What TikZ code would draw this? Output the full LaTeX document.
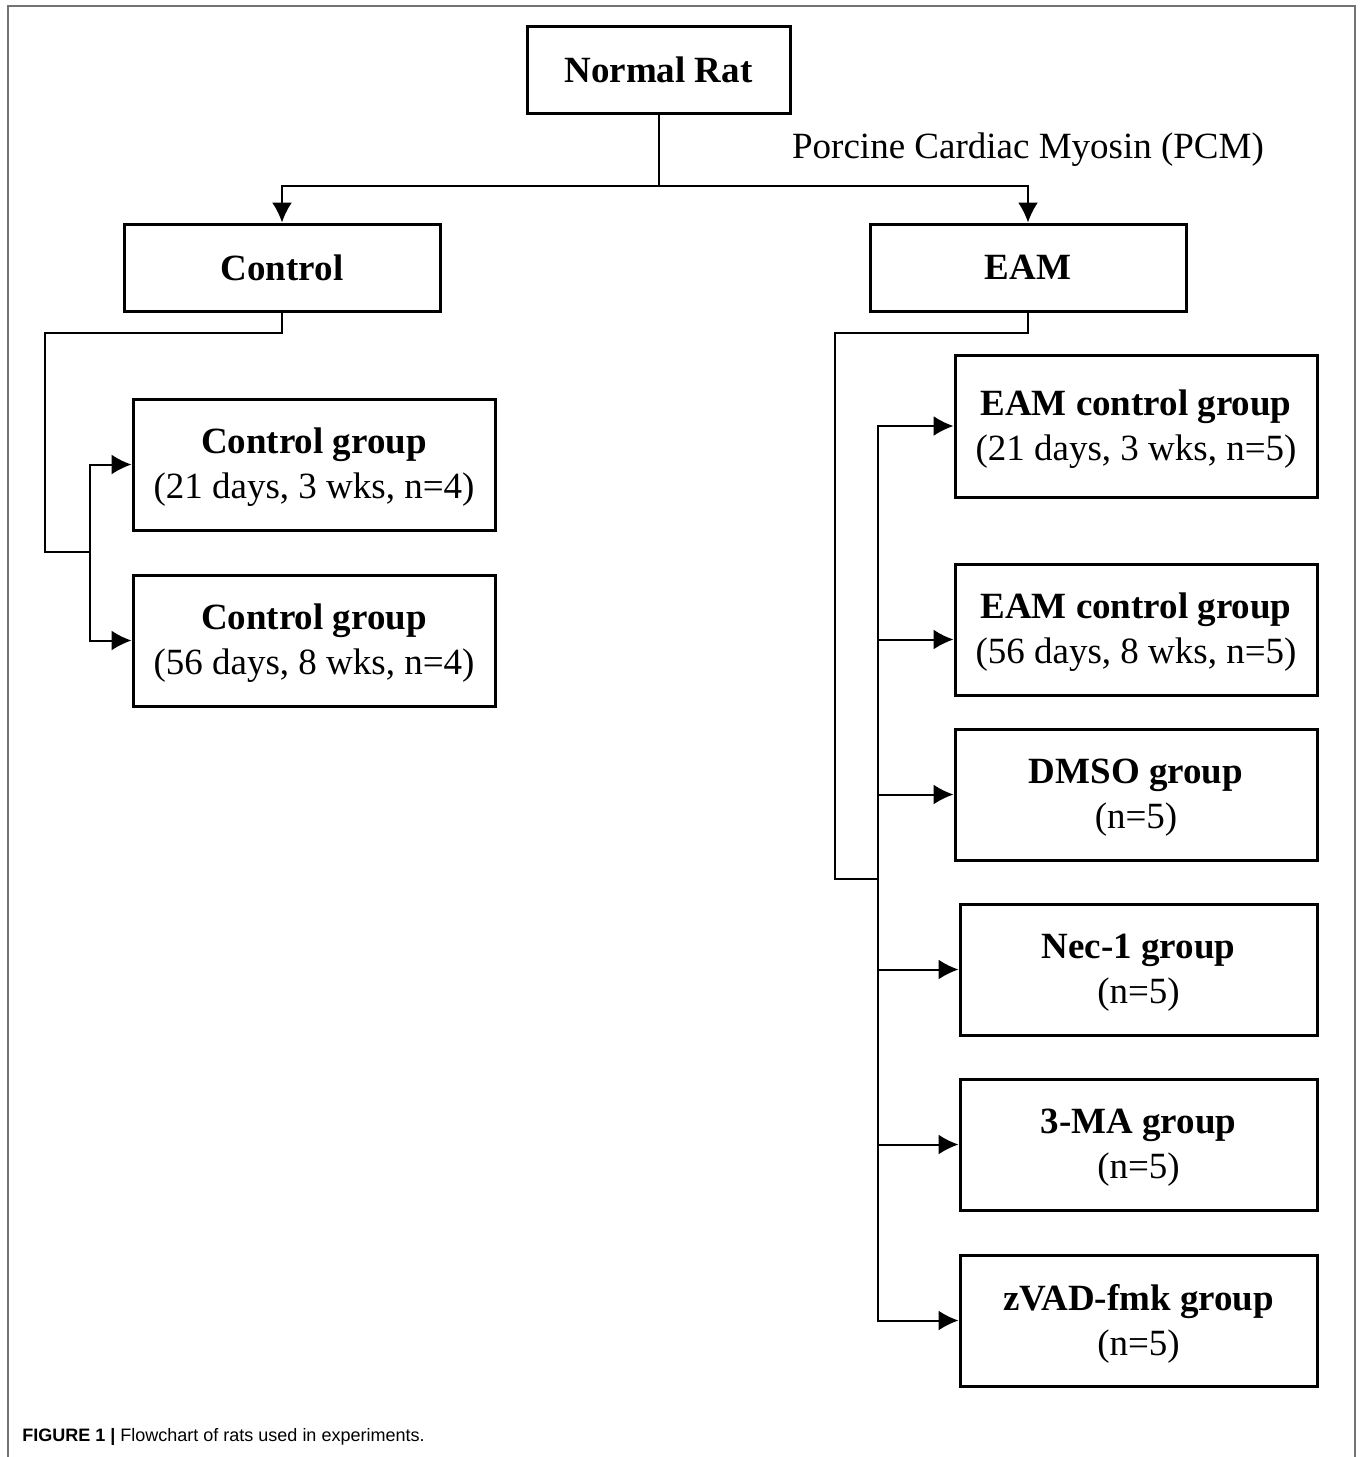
\documentclass[tikz,border=0pt]{standalone}
\usepackage{fontspec}
\setmainfont{Liberation Serif}
\newfontfamily\capfont{Liberation Sans}
\usepackage{xcolor}
\usepackage{tikz}
\usetikzlibrary{arrows.meta,positioning,calc}

\begin{document}
\begin{tikzpicture}[
    x=0.5pt, y=-0.5pt,
    box/.style={rectangle, draw=black, line width=1.5pt, align=center, inner sep=2pt,
        font=\fontsize{18.5}{22.5}\selectfont},
    head/.style={box, minimum width=158pt, minimum height=43.5pt, font=\fontsize{18.5}{22.5}\selectfont\bfseries},
    grp/.style={box, minimum width=181pt, minimum height=65.5pt, text depth=1pt},
    link/.style={line width=1pt, draw=black},
    arr/.style={link, -{Latex[length=10pt, width=10pt]}}
]
    \useasboundingbox (0,0) rectangle (1360,1457);

    % Frame
    \draw[line width=1pt, color=black!55] (8,1457) -- (8,6) -- (1355,6) -- (1355,1457);

    % Top
    \node[head, minimum width=131.5pt] (rat) at (658.5,69.5) {Normal Rat};
    \node[head] (ctrl) at (282,267.5) {Control};
    \node[head] (eam) at (1028,267.5) {EAM};
    \node[font=\fontsize{18.5}{22.5}\selectfont] (pcm) at (1028,150) {Porcine Cardiac Myosin (PCM)};

    % Control groups
    \node[grp] (cg1) at (314,464.5) {\textbf{Control group}\\(21 days, 3 wks, n=4)};
    \node[grp] (cg2) at (314,640.5) {\textbf{Control group}\\(56 days, 8 wks, n=4)};

    % EAM groups
    \node[grp, minimum height=71pt] (e1) at (1136,426) {\textbf{EAM control group}\\(21 days, 3 wks, n=5)};
    \node[grp] (e2) at (1136,629.5) {\textbf{EAM control group}\\(56 days, 8 wks, n=5)};
    \node[grp] (e3) at (1136,794.5) {\textbf{DMSO group}\\(n=5)};
    \node[grp, minimum width=178.5pt] (e4) at (1138.5,969.5) {\textbf{Nec-1 group}\\(n=5)};
    \node[grp, minimum width=178.5pt] (e5) at (1138.5,1144.5) {\textbf{3-MA group}\\(n=5)};
    \node[grp, minimum width=178.5pt] (e6) at (1138.5,1320.5) {\textbf{zVAD-fmk group}\\(n=5)};

    % Junctions
    \coordinate (split) at (658.5,186);
    \coordinate (cl) at (45,333);
    \coordinate (cj) at (90,552);
    \coordinate (el) at (835,333);
    \coordinate (ej) at (878,879);

    % Connectors
    \draw[link] (rat.south) -- (split);
    \draw[arr] (split) -| (ctrl.north);
    \draw[arr] (split) -| (eam.north);

    \draw[link] (ctrl.south) |- (cl) |- (cj);
    \draw[arr] (cj) |- (cg1.west);
    \draw[arr] (cj) |- (cg2.west);

    \draw[link] (eam.south) |- (el) |- (ej);
    \draw[arr] (ej) |- ([yshift=-5pt]e2.west);
    \foreach \g in {e1,e3,e4,e5,e6}
        \draw[arr] (ej) |- (\g.west);

    % Caption
    \node[anchor=west, inner sep=0pt, font=\capfont\fontsize{9}{11}\selectfont] (cap) at (22,1437)
        {\textbf{FIGURE 1 |} Flowchart of rats used in experiments.};
\end{tikzpicture}
\end{document}
